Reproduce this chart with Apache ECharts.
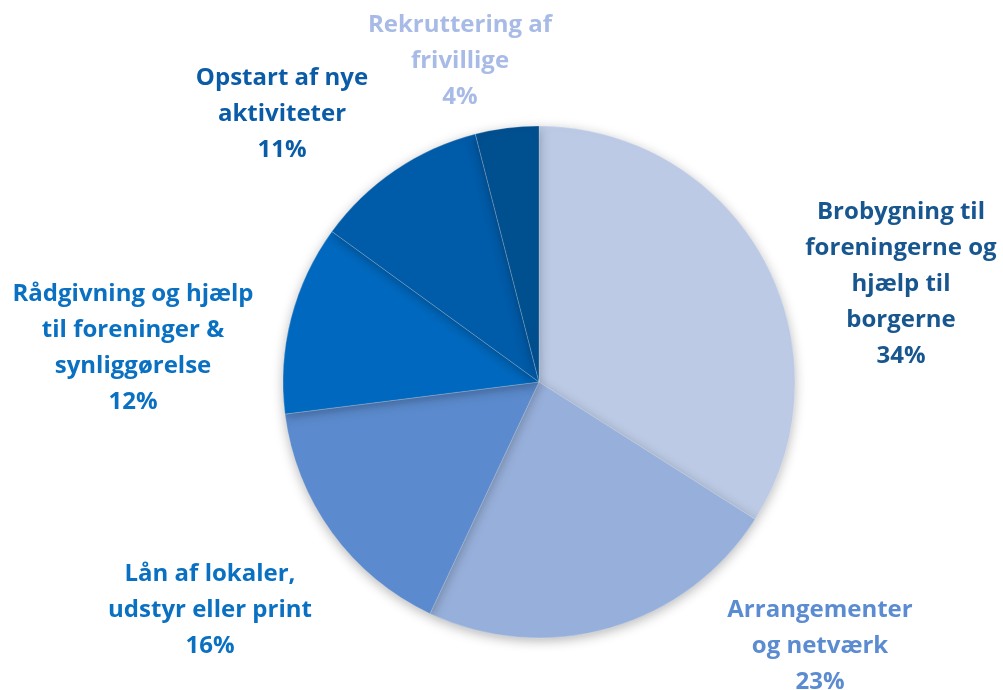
<!DOCTYPE html>
<html>
<head>
<meta charset="utf-8">
<script src="https://cdn.jsdelivr.net/npm/echarts@6/dist/echarts.min.js"></script>
<style>html,body{margin:0;padding:0;background:#fff}#c{width:1003px;height:690px}</style>
</head>
<body>
<div id="c"></div>
<script>
const categories = [
  'Brobygning til\nforeningerne og\nhjælp til\nborgerne',
  'Arrangementer\nog netværk',
  'Lån af lokaler,\nudstyr eller print',
  'Rådgivning og hjælp\ntil foreninger &\nsynliggørelse',
  'Opstart af nye\naktiviteter',
  'Rekruttering af\nfrivillige'
];
const values = [34, 23, 16, 12, 11, 4];

const sliceColors = ['#BCCAE5', '#97B0DB', '#5B8BCE', '#0069BF', '#005BA8', '#004F8E'];
const labelColors = ['#17568F', '#5B8BD0', '#0A70C2', '#0A70C2', '#0B5CA7', '#A8BAE6'];
const labelPos = [[901, 284], [820, 646], [210, 610], [133, 348], [282, 114], [460, 61]];

const chart = echarts.init(document.getElementById('c'), null, {renderer: 'canvas'});
chart.setOption({
  animation: false,
  backgroundColor: '#ffffff',
  series: [{
    type: 'pie',
    center: [539, 382],
    radius: [0, 256],
    startAngle: 90,
    clockwise: true,
    data: categories.map((n, i) => ({
      name: n, value: values[i],
      itemStyle: {color: sliceColors[i]},
      label: {color: labelColors[i]}
    })),
    itemStyle: {
      borderColor: 'rgba(255,255,255,0.35)', borderWidth: 0.6,
      shadowBlur: 12, shadowColor: 'rgba(0,0,0,0.28)', shadowOffsetY: 3
    },
    label: {
      show: true, position: 'outside', overflow: 'none',
      formatter: p => p.name + '\n' + p.value + '%',
      fontFamily: 'Open Sans', fontWeight: 'bold', fontSize: 24, lineHeight: 36,
      align: 'center'
    },
    labelLine: {show: false},
    labelLayout: p => ({
      x: labelPos[p.dataIndex][0], y: labelPos[p.dataIndex][1],
      align: 'center', verticalAlign: 'middle'
    })
  }]
});
</script>
</body>
</html>
